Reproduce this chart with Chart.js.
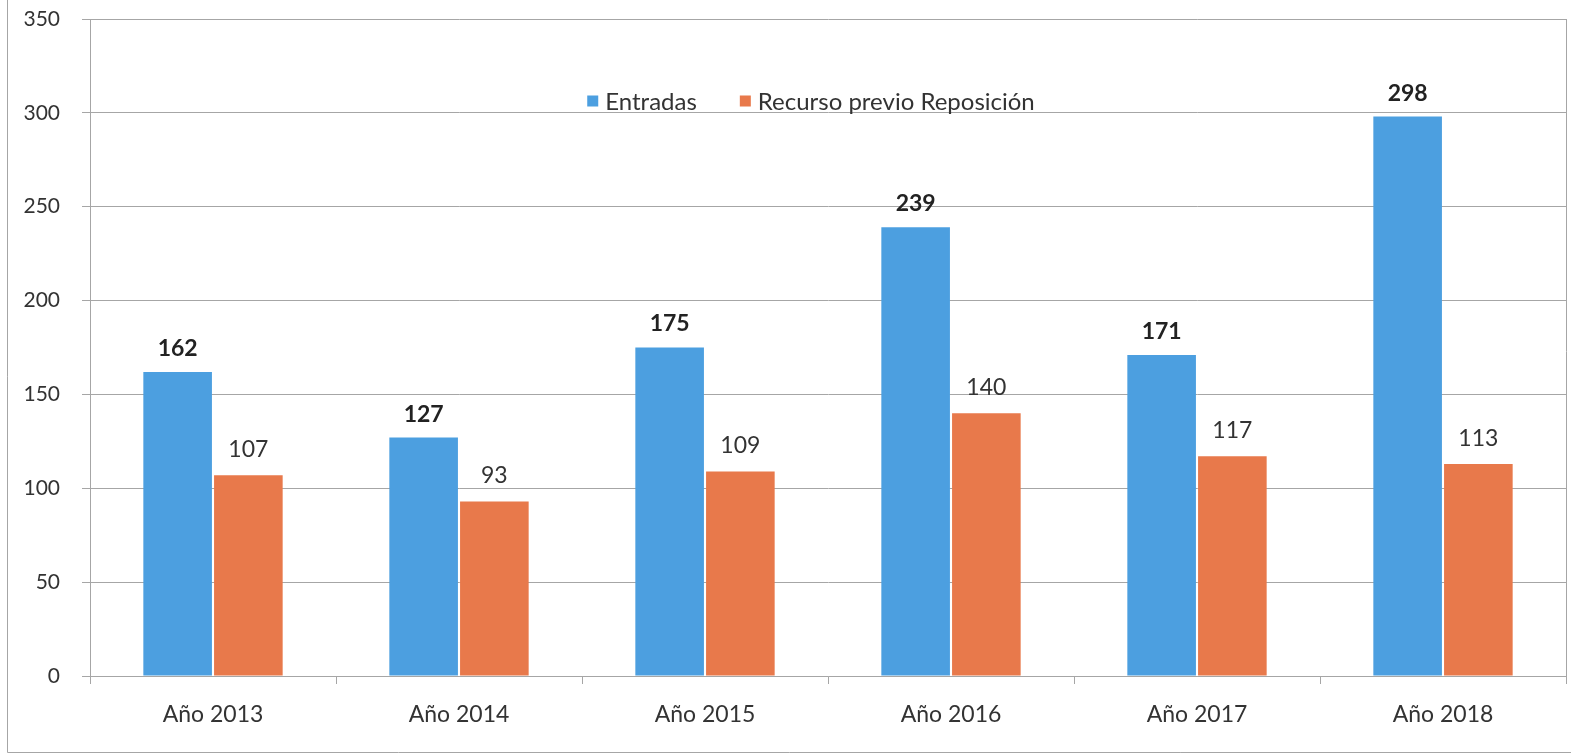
<!DOCTYPE html>
<html>
<head>
<meta charset="utf-8">
<script src="https://cdn.jsdelivr.net/npm/chart.js@4.4.1/dist/chart.umd.min.js"></script>
<style>
  html, body { margin: 0; padding: 0; background: #fff; }
  #wrap { width: 1571px; height: 755px; position: relative; }
</style>
</head>
<body>
<div id="wrap"><canvas id="chart" width="1571" height="755"></canvas></div>
<script>
// Data
const categories = ["Año 2013", "Año 2014", "Año 2015", "Año 2016", "Año 2017", "Año 2018"]
const entradas = [162, 127, 175, 239, 171, 298]
const recursoPrevio = [107, 93, 109, 140, 117, 113]
const seriesNames = ["Entradas", "Recurso previo Reposición"]
const yTicks = [0, 50, 100, 150, 200, 250, 300, 350]

const FONT = "Lato, 'Open Sans', sans-serif"
const TEXT = '#333333'
const GRID = '#a6a6a6'
const BLUE = '#4c9fe0'
const ORANGE = '#e8794b'

// value labels above bars + legend inside plot + frame lines
const extrasPlugin = {
    id: 'extras',
    afterDatasetsDraw(chart) {
        const ctx = chart.ctx
        ctx.save()
        ctx.textAlign = 'center'
        ctx.textBaseline = 'bottom'
        chart.data.datasets.forEach((ds, i) => {
            const meta = chart.getDatasetMeta(i)
            ctx.font = (i === 0 ? 'bold ' : '') + '23px ' + FONT
            ctx.fillStyle = i === 0 ? '#222' : TEXT
            meta.data.forEach((bar, j) => {
                ctx.fillText(ds.data[j], bar.x, bar.y - (i === 0 ? 12 : 14))
            })
        })

        // legend
        const area = chart.chartArea
        ctx.font = '24px ' + FONT
        ctx.textAlign = 'left'
        ctx.textBaseline = 'middle'
        const box = 11, gapBox = 7, gapItem = 43
        const widths = seriesNames.map(n => box + gapBox + ctx.measureText(n).width)
        const total = widths[0] + gapItem + widths[1]
        let x = 811 - total / 2
        const y = 101
        seriesNames.forEach((name, i) => {
            ctx.fillStyle = chart.data.datasets[i].backgroundColor
            ctx.fillRect(x, y - box / 2, box, box)
            ctx.fillStyle = TEXT
            ctx.fillText(name, x + box + gapBox, y + 1)
            x += widths[i] + gapItem
        })

        // right border of plot and outer frame
        ctx.strokeStyle = GRID
        ctx.lineWidth = 1
        ctx.beginPath()
        ctx.moveTo(area.right + 0.5, area.top)
        ctx.lineTo(area.right + 0.5, area.bottom + 8)
        ctx.moveTo(7.5, 0)
        ctx.lineTo(7.5, 752.5)
        ctx.lineTo(chart.width, 752.5)
        ctx.stroke()
        ctx.restore()
    }
}

new Chart(document.getElementById('chart'), {
    type: 'bar',
    data: {
        labels: categories,
        datasets: [
            { label: seriesNames[0], data: entradas, backgroundColor: BLUE },
            { label: seriesNames[1], data: recursoPrevio, backgroundColor: ORANGE }
        ]
    },
    options: {
        responsive: false,
        animation: false,
        events: [],
        layout: { padding: { top: 19, right: 5, left: 0, bottom: 0 } },
        datasets: {
            bar: { categoryPercentage: 0.575, barPercentage: 0.97 }
        },
        plugins: {
            legend: { display: false },
            tooltip: { enabled: false },
            title: { display: false }
        },
        scales: {
            x: {
                offset: true,
                grid: { display: true, drawOnChartArea: false, drawTicks: true, tickLength: 8, color: GRID, offset: true },
                border: { display: true, color: GRID },
                ticks: { color: TEXT, font: { family: FONT, size: 23 }, padding: 17 },
                afterFit(scale) {
                    scale.height = 79
                    scale.paddingLeft = 0
                    scale.paddingRight = 0
                }
            },
            y: {
                min: 0,
                max: 350,
                afterBuildTicks(scale) { scale.ticks = yTicks.map(v => ({ value: v })) },
                grid: { color: GRID, tickLength: 8, drawTicks: true },
                border: { display: true, color: GRID },
                ticks: { color: TEXT, font: { family: FONT, size: 21 }, padding: 22 },
                afterFit(scale) {
                    scale.width = 90
                    scale.paddingTop = 0
                    scale.paddingBottom = 0
                }
            }
        }
    },
    plugins: [extrasPlugin]
})
</script>
</body>
</html>
